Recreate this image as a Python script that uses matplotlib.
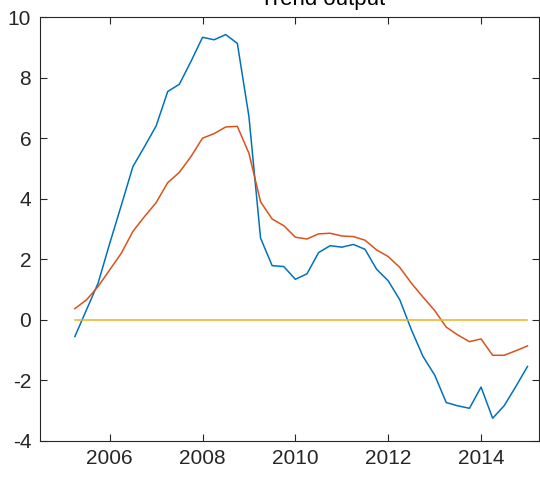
import numpy as np
import matplotlib
matplotlib.use('Agg')
import matplotlib.pyplot as plt

plt.rcParams['font.family'] = ['Liberation Sans', 'DejaVu Sans']
plt.rcParams['axes.unicode_minus'] = False

# quarterly dates, 2005Q2 .. 2015Q1
t = 2005.25 + 0.25 * np.arange(40)

blue = [-0.55, 0.33, 1.21, 2.52, 3.78, 5.06, 5.72, 6.40, 7.54, 7.78,
        8.53, 9.33, 9.25, 9.42, 9.13, 6.71, 2.70, 1.79, 1.76, 1.34,
        1.52, 2.22, 2.45, 2.40, 2.49, 2.33, 1.67, 1.29, 0.66, -0.33,
        -1.21, -1.82, -2.73, -2.84, -2.92, -2.22, -3.25, -2.83, -2.20, -1.54]
orange = [0.37, 0.66, 1.10, 1.65, 2.20, 2.92, 3.41, 3.87, 4.53, 4.87,
          5.39, 6.00, 6.15, 6.37, 6.39, 5.50, 3.90, 3.33, 3.11, 2.73,
          2.67, 2.84, 2.86, 2.77, 2.75, 2.63, 2.31, 2.09, 1.73, 1.21,
          0.75, 0.31, -0.24, -0.50, -0.72, -0.63, -1.17, -1.17, -1.02, -0.86]
zero = np.zeros(40)

fig = plt.figure(figsize=(5.4, 4.87), dpi=100)
ax = fig.add_axes([0.0733, 0.0945, 0.925, 0.8705])

ax.plot(t, blue, color='#0072BD', lw=1.1)
ax.plot(t, orange, color='#D95319', lw=1.1)
ax.plot(t, zero, color='#EDB120', lw=1.1)

ax.set_xlim(2004.49, 2015.25)
ax.set_ylim(-4, 10)
ax.set_xticks([2006, 2008, 2010, 2012, 2014])
ax.set_yticks(np.arange(-4, 11, 2))

for s in ax.spines.values():
    s.set_color('#262626')
    s.set_linewidth(0.8)
ax.tick_params(direction='in', length=5, width=0.8, colors='#262626',
               labelsize=15, top=True, right=True, pad=6)

# title sits mostly above the top edge of the picture
fig.text(323 / 540, 1 - 4.5 / 487, 'Trend output', ha='center', va='baseline',
         fontsize=16, color='black')

fig.savefig('out.png', dpi=100)
